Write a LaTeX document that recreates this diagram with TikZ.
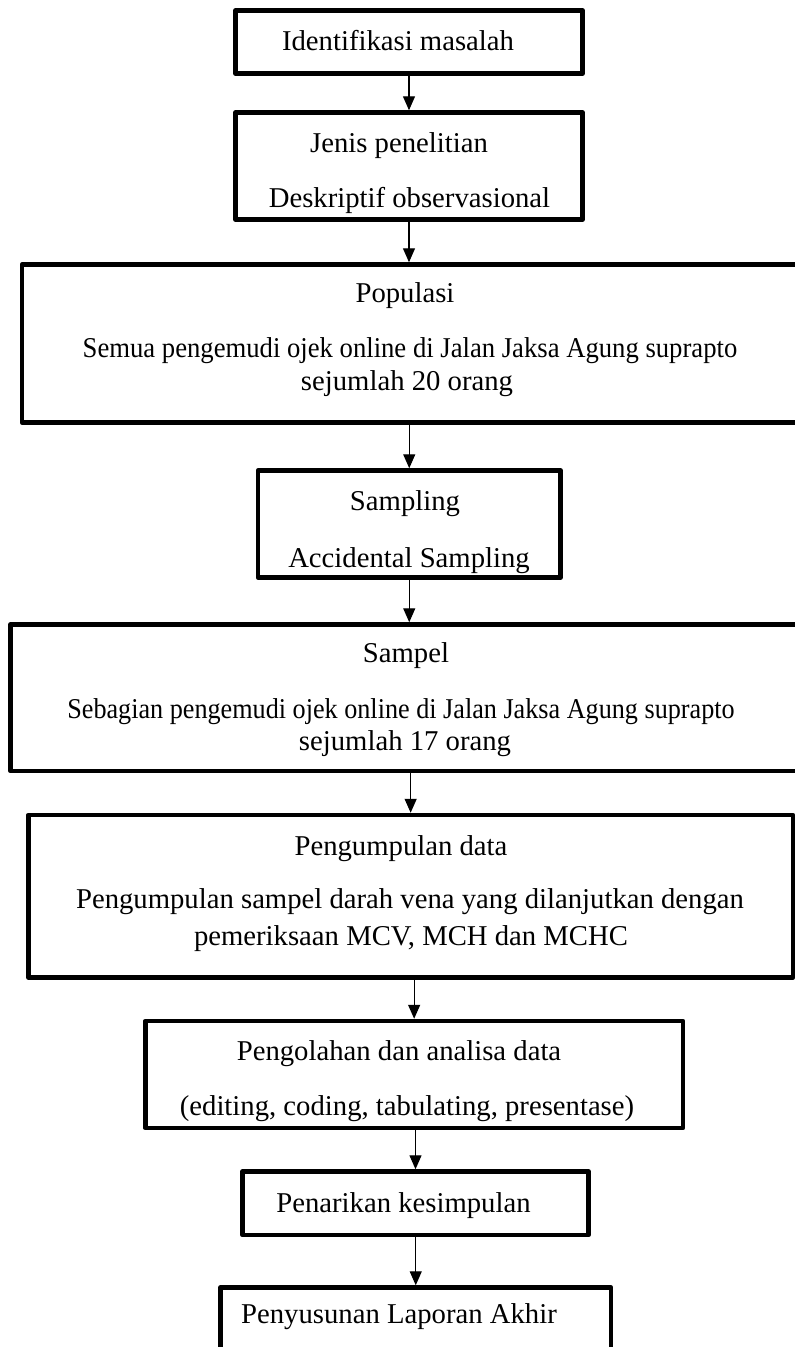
\documentclass[tikz,border=0pt]{standalone}
\usepackage{fontspec}
\setmainfont{Liberation Serif}
\usepackage{graphicx}
\usetikzlibrary{arrows.meta}
\begin{document}
\begin{tikzpicture}[x=1pt,y=-1pt,
  box/.style={draw, line width=4.5pt, line join=round, inner sep=0pt},
  arr/.style={-{Triangle[length=14pt,width=12pt]}, line width=1.3pt},
  txt/.style={anchor=base, inner sep=0pt, font=\fontsize{28.7}{34}\selectfont}]
\fill[white] (0,0) rectangle (795,1347);
\useasboundingbox (0,0) rectangle (795,1347);
% boxes
\node[box, minimum width=347pt, minimum height=63pt] (b1) at (409,42) {};
\node[box, minimum width=347pt, minimum height=107pt] (b2) at (409,166) {};
\node[box, minimum width=798pt, minimum height=158pt] (b3) at (421,343.5) {};
\node[box, minimum width=302.5pt, minimum height=107pt] (b4) at (409.25,524) {};
\node[box, minimum width=809.5pt, minimum height=146.5pt] (b5) at (415.25,697.75) {};
\node[box, minimum width=764.7pt, minimum height=162.5pt] (b6) at (410.65,896.25) {};
\node[box, minimum width=537.7pt, minimum height=107pt] (b7) at (414.15,1074.5) {};
\node[box, minimum width=346pt, minimum height=63.5pt] (b8) at (415.5,1203.25) {};
\node[box, minimum width=390.5pt, minimum height=64.5pt] (b9) at (415.75,1319.75) {};
% texts
\node[txt] (t1) at (398,50) {Identifikasi masalah};
\node[txt] (t2) at (399,152) {Jenis penelitian};
\node[txt] (t3) at (409.5,207) {Deskriptif observasional};
\node[txt] (t4) at (405,302) {Populasi};
\node[txt] (t5) at (410,357) {\scalebox{0.929}[1]{Semua pengemudi ojek online di Jalan Jaksa Agung suprapto}};
\node[txt] (t6) at (407,390) {sejumlah 20 orang};
\node[txt] (t7) at (405,510) {Sampling};
\node[txt] (t8) at (409,567) {Accidental Sampling};
\node[txt] (t9) at (406,662) {Sampel};
\node[txt] (t10) at (401,718) {\scalebox{0.912}[1]{Sebagian pengemudi ojek online di Jalan Jaksa Agung suprapto}};
\node[txt] (t11) at (405,750) {sejumlah 17 orang};
\node[txt] (t12) at (401,855) {Pengumpulan data};
\node[txt] (t13) at (410,908) {Pengumpulan sampel darah vena yang dilanjutkan dengan};
\node[txt] (t14) at (411,945) {pemeriksaan MCV, MCH dan MCHC};
\node[txt] (t15) at (399,1060) {Pengolahan dan analisa data};
\node[txt] (t16) at (407,1115) {(editing, coding, tabulating, presentase)};
\node[txt] (t17) at (403.5,1212) {Penarikan kesimpulan};
\node[txt] (t18) at (399,1323) {Penyusunan Laporan Akhir};
% arrows
\draw[arr] (b1.south) -- (b1.south |- b2.north);
\draw[arr] (b2.south) -- (b2.south |- b3.north);
\draw[arr] (b4.north |- b3.south) -- (b4.north);
\draw[arr] (b4.south) -- (b4.south |- b5.north);
\draw[arr] (b6.north |- b5.south) -- (b6.north);
\draw[arr] (b7.north |- b6.south) -- (b7.north);
\draw[arr] (b8.north |- b7.south) -- (b8.north);
\draw[arr] (b9.north |- b8.south) -- (b9.north);
\end{tikzpicture}
\end{document}
